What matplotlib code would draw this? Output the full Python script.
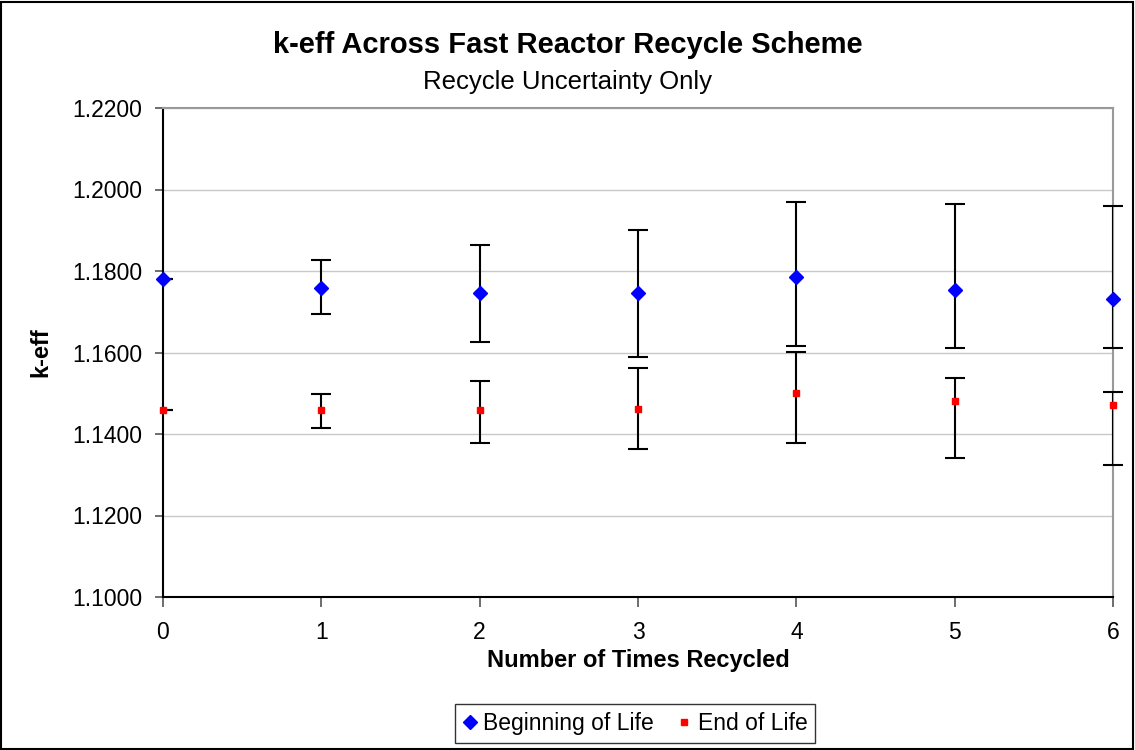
import matplotlib
matplotlib.use('Agg')
from matplotlib import pyplot as plt
from matplotlib.patches import Rectangle
from matplotlib.lines import Line2D
from matplotlib.ticker import FormatStrFormatter

plt.rcParams['font.family'] = ['Liberation Sans', 'DejaVu Sans']

recycles = [0, 1, 2, 3, 4, 5, 6]

bol = [1.1781, 1.1758, 1.1746, 1.1746, 1.1786, 1.1754, 1.1732]
bol_hi = [1.1781, 1.1827, 1.1864, 1.1901, 1.1970, 1.1965, 1.1960]
bol_lo = [1.1781, 1.1695, 1.1625, 1.1589, 1.1617, 1.1612, 1.1612]

eol = [1.1459, 1.1459, 1.1459, 1.1462, 1.1500, 1.1481, 1.1472]
eol_hi = [1.1459, 1.1499, 1.1529, 1.1561, 1.1602, 1.1538, 1.1502]
eol_lo = [1.1459, 1.1415, 1.1379, 1.1364, 1.1378, 1.1341, 1.1323]

bol_err = [[m - l for m, l in zip(bol, bol_lo)], [h - m for m, h in zip(bol, bol_hi)]]
eol_err = [[m - l for m, l in zip(eol, eol_lo)], [h - m for m, h in zip(eol, eol_hi)]]

figure = plt.figure(figsize=(11.35, 7.5), dpi=100)
ax = figure.add_axes([0.1436, 0.204, 0.837, 0.652])

eb1 = ax.errorbar(recycles, bol, yerr=bol_err, fmt='D', color='#0000ff', ms=7,
                  ecolor='black', elinewidth=1.5, capsize=7, capthick=1.5, zorder=3)
eb2 = ax.errorbar(recycles, eol, yerr=eol_err, fmt='s', color='#ff0000', ms=5,
                  ecolor='black', elinewidth=1.5, capsize=7, capthick=1.5, zorder=3)

# caps get cut at the left axis only, like the original
clip = Rectangle((0, -0.1), 1.1, 1.2, transform=ax.transAxes, fill=False, visible=False)
ax.add_patch(clip)
for eb in (eb1, eb2):
    eb[0].set_clip_on(False)
    eb[0].set_zorder(4)
    for cap in eb[1]:
        cap.set_clip_path(clip)

ax.set_xlim(0, 6)
ax.set_ylim(1.10, 1.22)
ax.set_yticks([1.10, 1.12, 1.14, 1.16, 1.18, 1.20, 1.22])
ax.yaxis.set_major_formatter(FormatStrFormatter('%.4f'))
ax.grid(axis='y', color='#c8c8c8', lw=1)
ax.set_axisbelow(True)
ax.tick_params(axis='y', labelsize=16.5, direction='out', length=6, width=1.2, pad=9,
               color='#555555')
ax.tick_params(axis='x', labelsize=16.5, direction='out', length=7, width=1.2, pad=10,
               color='#555555')

ax.spines['left'].set_linewidth(1.5)
ax.spines['bottom'].set_linewidth(1.5)
ax.spines['top'].set_color('#999999')
ax.spines['right'].set_color('#999999')
ax.spines['top'].set_linewidth(1.5)
ax.spines['right'].set_linewidth(1.5)

ax.set_xlabel('Number of Times Recycled', fontsize=17, fontweight='bold', labelpad=4)
ax.set_ylabel('k-eff', fontsize=17, fontweight='bold', labelpad=14)

figure.text(0.5, 0.94, 'k-eff Across Fast Reactor Recycle Scheme', ha='center', va='center',
            fontsize=21, fontweight='bold')
figure.text(0.5, 0.89, 'Recycle Uncertainty Only', ha='center', va='center', fontsize=18.5)

handles = [Line2D([], [], ls='none', marker='D', color='#0000ff', ms=7),
           Line2D([], [], ls='none', marker='s', color='#ff0000', ms=5)]
leg = figure.legend(handles, ['Beginning of Life', 'End of Life'], loc='center',
                    bbox_to_anchor=(0.5595, 0.0353), ncol=2, fontsize=16.5,
                    frameon=True, fancybox=False, edgecolor='black', handlelength=0.6,
                    handletextpad=0.3, columnspacing=1.0, borderpad=0.35)
leg.get_frame().set_linewidth(1)

figure.patches.append(Rectangle((0.001, 0.001), 0.997, 0.997, transform=figure.transFigure,
                                fill=False, edgecolor='black', lw=1.5))

figure.savefig('out.png', dpi=100)
